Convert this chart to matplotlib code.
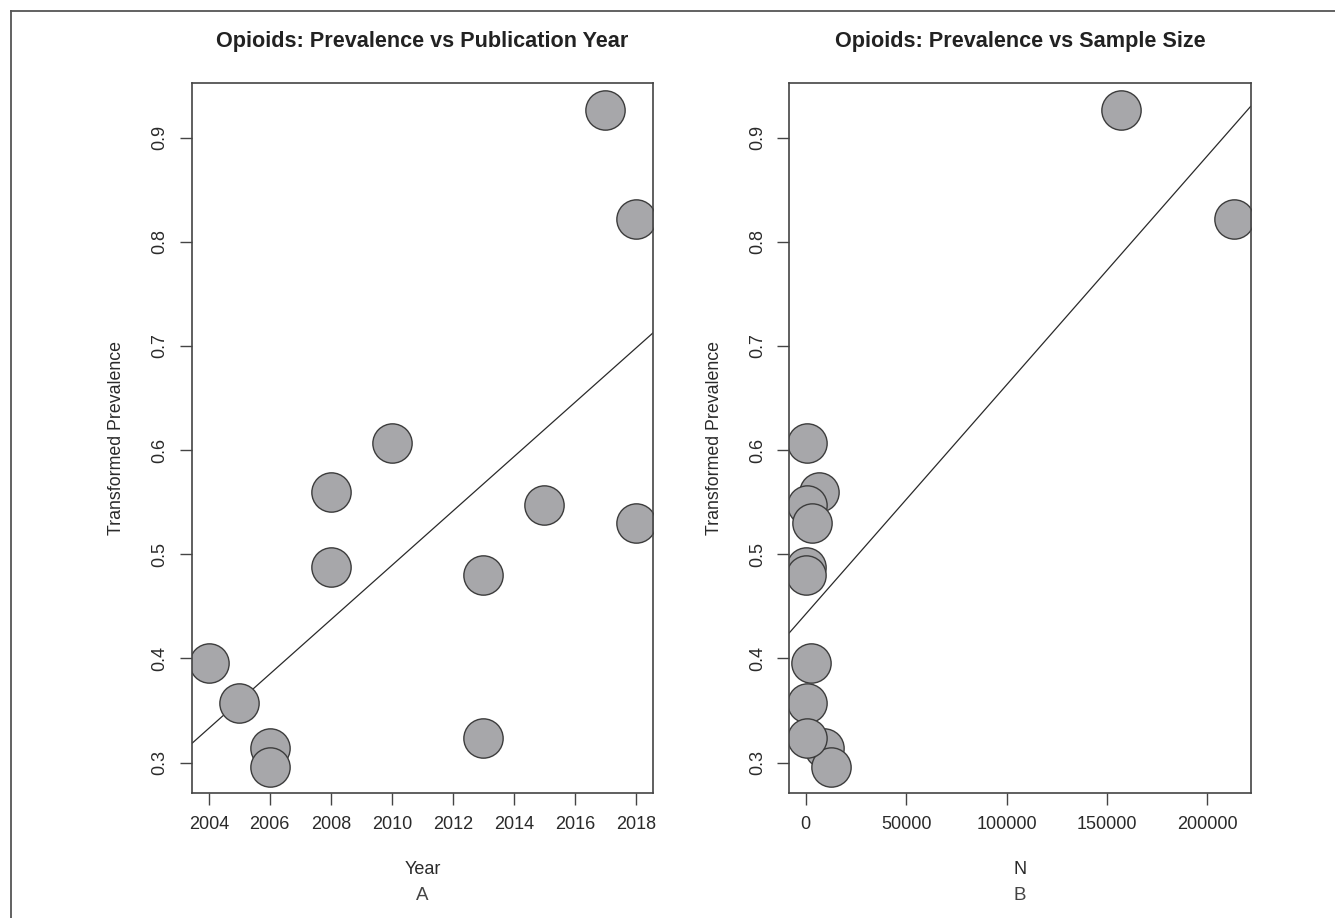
import numpy as np
import matplotlib
matplotlib.use('Agg')
import matplotlib.pyplot as plt
from matplotlib.lines import Line2D

plt.rcParams['font.family'] = ['Liberation Sans', 'DejaVu Sans']

# ---- data ----
year = [2004, 2005, 2006, 2006, 2008, 2008, 2010, 2013, 2013, 2015, 2017, 2018, 2018]
prevalence = [0.396, 0.357, 0.314, 0.296, 0.560, 0.488, 0.607, 0.480, 0.324, 0.547, 0.927, 0.822, 0.530]
sample_n = [2400, 700, 9300, 12500, 6500, 300, 400, 300, 700, 400, 157000, 213000, 2900]

year_ticks = [2004, 2006, 2008, 2010, 2012, 2014, 2016, 2018]
prev_ticks = [0.3, 0.4, 0.5, 0.6, 0.7, 0.8, 0.9]
n_ticks = [0, 50000, 100000, 150000, 200000]

titles = ['Opioids: Prevalence vs Publication Year', 'Opioids: Prevalence vs Sample Size']
xlabels = ['Year', 'N']
ylabel = 'Transformed Prevalence'
panel_labels = ['A', 'B']

W, H = 1335, 918
fig = plt.figure(figsize=(W / 100, H / 100), dpi=100)
fig.patch.set_facecolor('white')

DARK = '#3c3c3c'
FACE = '#a7a7aa'


def px_axes(x0, y0, x1, y1):
    return fig.add_axes([x0 / W, 1 - y1 / H, (x1 - x0) / W, (y1 - y0) / H])


def rlim(v):
    lo, hi = min(v), max(v)
    r = hi - lo
    return lo - 0.04 * r, hi + 0.04 * r


boxes = [(191.7, 83.3, 653.0, 793.0), (789.3, 83.3, 1250.6, 793.0)]
xdata = [year, sample_n]
xticks = [year_ticks, n_ticks]

for i in range(2):
    x0, y0, x1, y1 = boxes[i]
    ax = px_axes(x0, y0, x1, y1)
    xs = np.array(xdata[i], dtype=float)
    ys = np.array(prevalence, dtype=float)
    xl = rlim(xs)
    yl = rlim(ys)
    ax.set_xlim(*xl)
    ax.set_ylim(*yl)
    m, b = np.polyfit(xs, ys, 1)
    lx = np.array(xl)
    ax.plot(lx, m * lx + b, color='#2a2a2a', lw=0.9, zorder=2)
    ax.plot(xs, ys, 'o', ms=28.3, mfc=FACE, mec=DARK, mew=1.0, zorder=3, clip_on=True)
    ax.set_xticks(xticks[i])
    ax.set_xticklabels([str(t) for t in xticks[i]])
    ax.set_yticks(prev_ticks)
    ax.set_yticklabels([f'{t:.1f}' for t in prev_ticks], rotation=90, va='center')
    for s in ax.spines.values():
        s.set_color('#444444')
        s.set_linewidth(1.2)
        s.set_zorder(4)
    ax.tick_params(axis='both', direction='out', length=8.6, width=1.0, color='#444444',
                   labelsize=13, labelcolor='#2a2a2a')
    ax.tick_params(axis='x', pad=8)
    ax.tick_params(axis='y', pad=8)

    cx = (x0 + x1) / 2
    fig.text(cx / W, 1 - 47 / H, titles[i], ha='center', va='baseline',
             fontsize=15.6, fontweight='bold', color='#222222')
    fig.text(cx / W, 1 - 874.5 / H, xlabels[i], ha='center', va='baseline',
             fontsize=13, color='#2a2a2a')
    fig.text(cx / W, 1 - 900 / H, panel_labels[i], ha='center', va='baseline',
             fontsize=13.5, color='#444444')
    fig.text((x0 - 75) / W, 1 - ((y0 + y1) / 2) / H, ylabel, ha='center', va='center',
             rotation=90, fontsize=12.8, color='#2a2a2a')

# outer frame (top and left edges visible)
fig.add_artist(Line2D([11 / W, 1.0], [1 - 11 / H, 1 - 11 / H], transform=fig.transFigure,
                      color='#555555', lw=1.3))
fig.add_artist(Line2D([11 / W, 11 / W], [0.0, 1 - 11 / H], transform=fig.transFigure,
                      color='#555555', lw=1.3))

fig.savefig('out.png', dpi=100, facecolor='white')
